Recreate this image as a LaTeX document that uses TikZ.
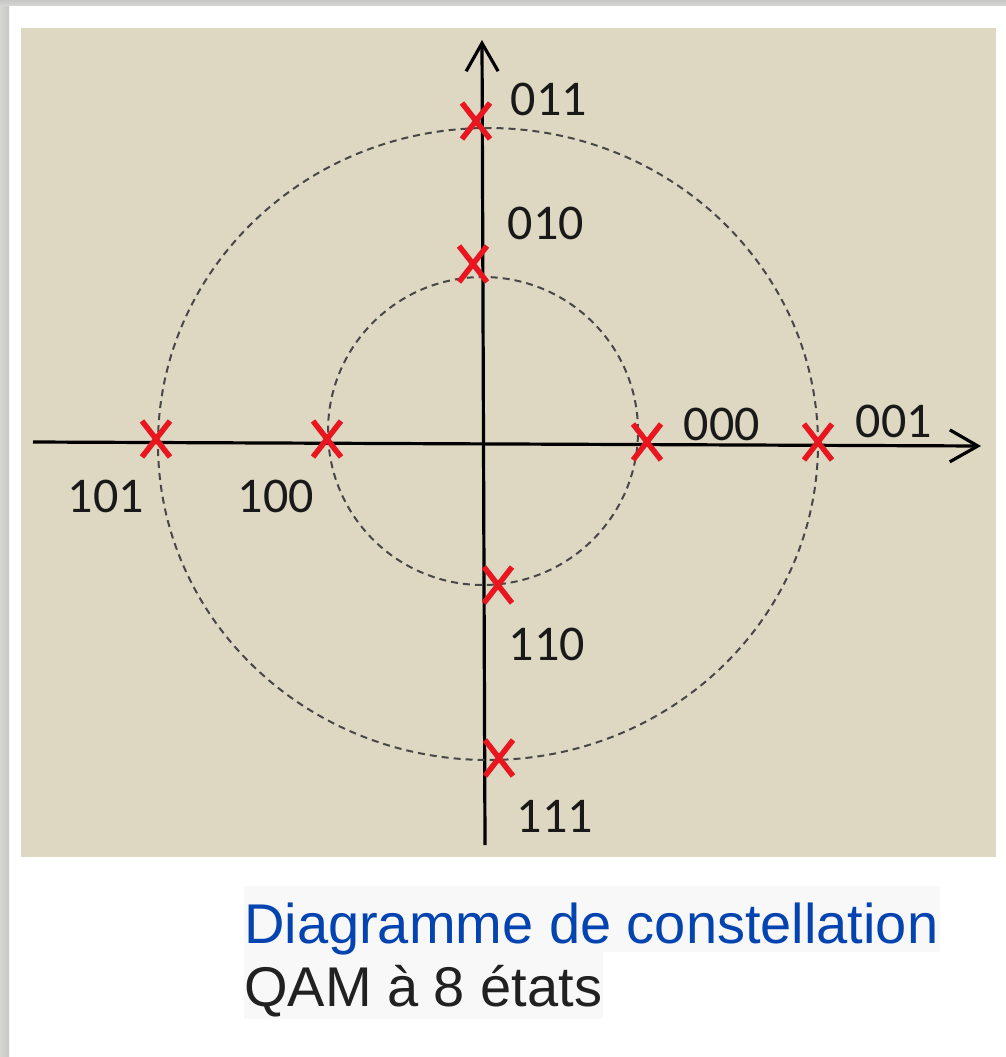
\documentclass[tikz,border=0pt]{standalone}
\usepackage{fontspec}
\setmainfont{Liberation Sans}
\newfontfamily\bitfont{Carlito}
\usetikzlibrary{arrows.meta,calc}

\definecolor{paper}{RGB}{222,216,195}
\definecolor{frame}{RGB}{198,198,196}
\definecolor{capbox}{RGB}{248,248,248}
\definecolor{capblue}{RGB}{4,68,176}
\definecolor{markred}{RGB}{232,22,30}

\tikzset{
  axis/.style={line width=3.2pt, -{Straight Barb[length=28pt,width=32pt]}},
  ring/.style={draw=black!72, line width=2pt, dash pattern=on 7pt off 5pt},
  cross/.style={markred, line width=5.5pt},
  bits/.style={font=\bitfont\fontsize{50}{60}\selectfont, text=black!90, inner sep=0pt},
  caption/.style={font=\fontsize{56}{62}\selectfont, inner sep=0pt, anchor=base west}
}

\begin{document}
\begin{tikzpicture}[x=1pt,y=-1pt]
    \useasboundingbox (0,0) rectangle (1006,1057);

    % Page and frame
    \fill[white] (0,0) rectangle (1006,1057);
    \fill[left color=frame!70, right color=frame] (0,0) rectangle (9,1057);
    \fill[top color=frame, bottom color=frame!70] (0,0) rectangle (1006,6);
    \fill[paper] (21,28) rectangle (996,857);

    % Axes
    \coordinate (west) at (33,442);
    \coordinate (east) at (981,446);
    \coordinate (south) at (485,845);
    \coordinate (north) at (482,40);
    \draw[axis] (west) -- (east);
    \draw[axis] (south) -- (north);

    % Amplitude rings
    \draw[ring] (483,431) ellipse [x radius=155pt, y radius=154pt];
    \draw[ring] (488,444) ellipse [x radius=330pt, y radius=316pt];

    % Constellation points
    \foreach \name/\px/\py in {s011/476/121, s010/473/264, s000/647/442, s001/818/442,
                              s100/327/439, s101/156/439, s110/498/585, s111/499/758} {
      \coordinate (\name) at (\px,\py);
      \draw[cross] ($(\name)+(-14,-18)$) -- ($(\name)+(14,18)$);
      \draw[cross] ($(\name)+(-14,18)$) -- ($(\name)+(14,-18)$);
    }

    % Labels
    \node[bits] (l011) at (549,99) {011};
    \node[bits] (l010) at (546,223) {010};
    \node[bits] (l000) at (722,424) {000};
    \node[bits] (l001) at (894,421) {001};
    \node[bits] (l101) at (106,496) {101};
    \node[bits] (l100) at (276,496) {100};
    \node[bits] (l110) at (547,644) {110};
    \node[bits] (l111) at (555,816) {111};

    % Caption
    \fill[capbox] (244,886) rectangle (940,952);
    \fill[capbox] (244,952) rectangle (603,1019);
    \node[caption, text=capblue] (title) at (244,943) {Diagramme de constellation};
    \node[caption, text=black!87] (subtitle) at (244,1006) {QAM à 8 états};
\end{tikzpicture}
\end{document}
